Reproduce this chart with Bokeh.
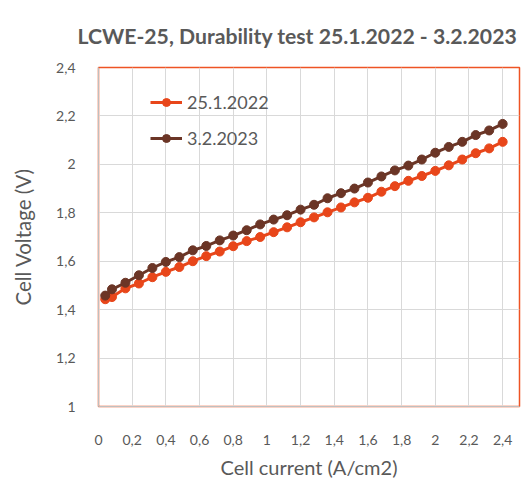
from bokeh.plotting import figure
from bokeh.models import CustomJSTickFormatter, FixedTicker, Range1d, Legend, LegendItem
from bokeh.embed import file_html
from bokeh.resources import INLINE

current = [0.04, 0.08, 0.16, 0.24, 0.32, 0.40, 0.48, 0.56, 0.64, 0.72, 0.80,
           0.88, 0.96, 1.04, 1.12, 1.20, 1.28, 1.36, 1.44, 1.52, 1.60, 1.68,
           1.76, 1.84, 1.92, 2.00, 2.08, 2.16, 2.24, 2.32, 2.40]
v_2022 = [1.443, 1.452, 1.488, 1.508, 1.534, 1.556, 1.576, 1.600, 1.621, 1.640, 1.662,
          1.683, 1.700, 1.720, 1.740, 1.761, 1.781, 1.802, 1.822, 1.843, 1.862, 1.887,
          1.910, 1.932, 1.952, 1.973, 1.996, 2.020, 2.046, 2.066, 2.093]
v_2023 = [1.458, 1.484, 1.511, 1.542, 1.572, 1.597, 1.617, 1.645, 1.663, 1.686, 1.706,
          1.728, 1.752, 1.772, 1.790, 1.813, 1.833, 1.860, 1.881, 1.900, 1.925, 1.950,
          1.975, 1.995, 2.020, 2.048, 2.072, 2.093, 2.121, 2.140, 2.167]
series_labels = ["25.1.2022", "3.2.2023"]
title_text = "LCWE-25, Durability test 25.1.2022 - 3.2.2023"
x_ticks = [0, 0.2, 0.4, 0.6, 0.8, 1.0, 1.2, 1.4, 1.6, 1.8, 2.0, 2.2, 2.4]
y_ticks = [1.0, 1.2, 1.4, 1.6, 1.8, 2.0, 2.2, 2.4]

RED = "#E8461A"
BROWN = "#6B3526"
GREY = "#595959"
FONT = "Lato"

p = figure(width=521, height=481, output_backend="svg", toolbar_location=None,
           x_range=Range1d(0, 2.5), y_range=Range1d(1.0, 2.4),
           min_border_left=98, min_border_right=2, min_border_top=67, min_border_bottom=72)

p.title.text = title_text
p.title.align = "left"
p.title.vertical_align = "bottom"
p.title.text_font = FONT
p.title.text_font_size = "21.2px"
p.title.text_font_style = "bold"
p.title.text_color = GREY
p.title.offset = -21
p.title.standoff = 38

fmt = CustomJSTickFormatter(code="return Number(tick.toFixed(1)).toString().replace('.', ',');")
for ax, ticks in ((p.xaxis, x_ticks), (p.yaxis, y_ticks)):
    ax.ticker = FixedTicker(ticks=ticks)
    ax.formatter = fmt
    ax.major_tick_line_color = None
    ax.minor_tick_line_color = None
    ax.axis_line_color = "#BFBFBF"
    ax.major_label_text_font = FONT
    ax.major_label_text_font_size = "14px"
    ax.major_label_text_color = GREY
    ax.axis_label_text_font = FONT
    ax.axis_label_text_font_style = "normal"
    ax.axis_label_text_color = GREY

p.xaxis.axis_label = "Cell current (A/cm2)"
p.yaxis.axis_label = "Cell Voltage (V)"
p.xaxis.axis_label_text_font_size = "20px"
p.yaxis.axis_label_text_font_size = "20.5px"
p.xaxis.major_label_standoff = 22
p.yaxis.major_label_standoff = 17
p.xaxis.axis_label_standoff = 7
p.yaxis.axis_label_standoff = 18

p.xgrid.ticker = FixedTicker(ticks=x_ticks)
p.ygrid.ticker = FixedTicker(ticks=y_ticks)
p.grid.grid_line_color = "#D9D9D9"
p.grid.grid_line_width = 1

p.outline_line_color = "#EE5424"
p.outline_line_width = 1.5
p.outline_line_alpha = 1.0

l1 = p.line(current, v_2022, line_color=RED, line_width=3)
c1 = p.scatter(current, v_2022, size=9, fill_color=RED, line_color=RED)
l2 = p.line(current, v_2023, line_color=BROWN, line_width=3)
c2 = p.scatter(current, v_2023, size=9, fill_color=BROWN, line_color=BROWN)

legend = Legend(items=[LegendItem(label=series_labels[0], renderers=[l1, c1]),
                       LegendItem(label=series_labels[1], renderers=[l2, c2])],
                location=(52, 257))
legend.background_fill_alpha = 0
legend.border_line_color = None
legend.padding = 0
legend.margin = 0
legend.spacing = 14
legend.glyph_width = 32
legend.glyph_height = 20
legend.label_standoff = 5
legend.label_text_font = FONT
legend.label_text_font_size = "18px"
legend.label_text_color = GREY
p.add_layout(legend)

open("out.html", "w").write(file_html(p, INLINE))
